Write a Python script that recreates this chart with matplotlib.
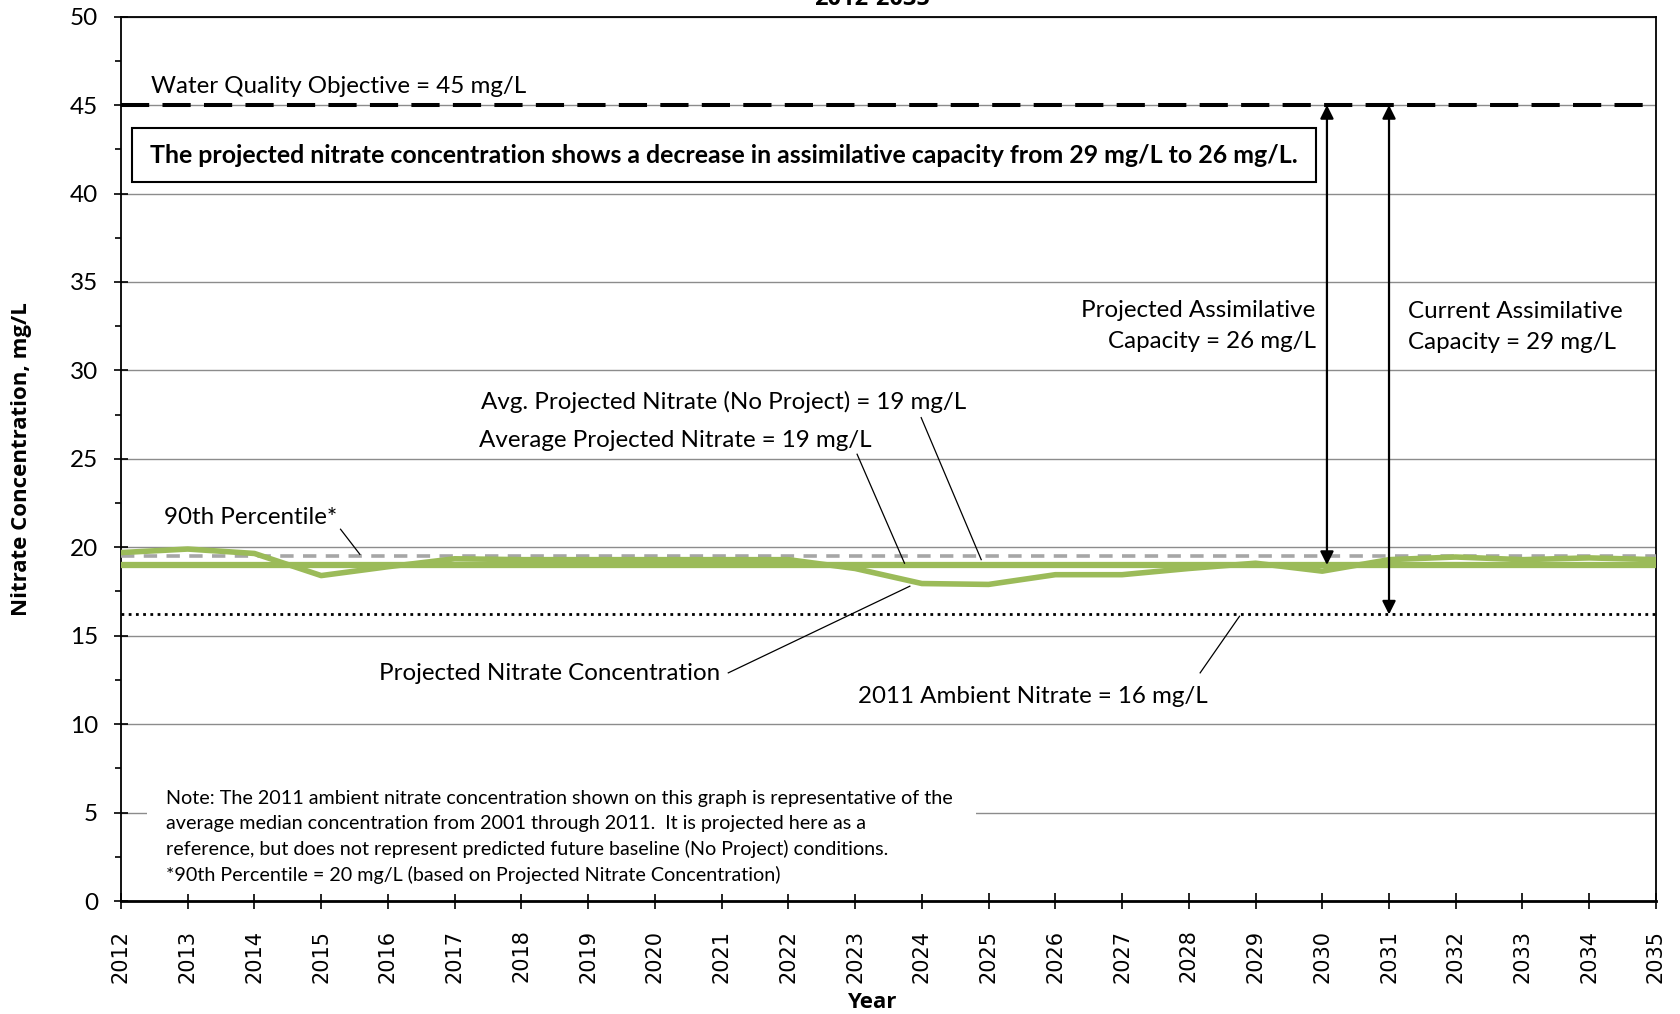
import matplotlib
matplotlib.use("Agg")
import matplotlib.pyplot as plt
from matplotlib.patches import Rectangle

# Données
years = list(range(2012, 2036))
projected = [19.7, 19.9, 19.65, 18.4, 18.9, 19.35, 19.3, 19.3, 19.3, 19.3, 19.3, 18.8,
             17.95, 17.9, 18.45, 18.45, 18.8, 19.1, 18.65, 19.3, 19.45, 19.3, 19.4, 19.3]
avg_projected = 19.0
avg_no_project = 19.05
pct90 = 19.5
ambient_2011 = 16.2
wqo = 45
y_ticks = list(range(0, 51, 5))

GREEN = "#9BBB59"
FONT = "Lato"

fig = plt.figure(figsize=(16.8, 10.14), dpi=100)
ax = fig.add_axes([0.072, 0.1114, 0.9137, 0.8722])

ax.set_xlim(years[0], years[-1])
ax.set_ylim(0, 50)
ax.set_yticks(y_ticks)
ax.set_yticks([v + 2.5 for v in y_ticks[:-1]], minor=True)
ax.set_xticks(years)
ax.set_xticklabels([str(y) for y in years], rotation=90, fontfamily="DejaVu Sans",
                   fontsize=15)
ax.yaxis.grid(True, color="#8c8c8c", lw=1.0, zorder=0)
ax.set_axisbelow(True)

for s in ax.spines.values():
    s.set_color("black")
    s.set_linewidth(1.3)
ax.spines["bottom"].set_linewidth(2.0)

ax.tick_params(axis="y", which="major", direction="inout", length=10, width=1.2, pad=11.5)
ax.tick_params(axis="y", which="minor", direction="out", length=4, width=1.2)
ax.tick_params(axis="x", which="major", direction="inout", length=11, width=1.2, pad=15)
for lab in ax.get_yticklabels():
    lab.set_fontfamily(FONT)
    lab.set_fontsize(17.5)

ax.set_ylabel("Nitrate Concentration, mg/L", fontfamily="Open Sans", fontweight="bold", fontsize=16)
ax.yaxis.set_label_coords(-0.058, 0.5)
ax.set_xlabel("Year", fontfamily="Open Sans", fontweight="bold", fontsize=16)
ax.xaxis.set_label_coords(0.4893, -0.103)

fig.text(0.519, 0.995, "2012-2035", ha="center", va="baseline",
         fontfamily="Open Sans", fontweight="bold", fontsize=17)

# Lignes de référence
ax.axhline(wqo, color="black", lw=2.9, dashes=(7, 3.3), zorder=4)
ax.axhline(pct90, color="#A6A6A6", lw=2.6, dashes=(3.7, 2.6), zorder=3)
ax.axhline(ambient_2011, color="black", lw=2.0, dashes=(1, 1.6), zorder=3)
ax.plot(years, [avg_no_project] * len(years), color=GREEN, lw=3.8, zorder=4)
ax.plot(years, [avg_projected] * len(years), color=GREEN, lw=3.8, zorder=4)
ax.plot(years, projected, color=GREEN, lw=4.0, zorder=5)

# Flèches de capacité assimilative
arrow = dict(arrowstyle="<|-|>", color="black", lw=1.6, mutation_scale=20,
             shrinkA=0, shrinkB=0)
ax.annotate("", xy=(2030.07, wqo), xytext=(2030.07, avg_projected), arrowprops=arrow, zorder=6)
ax.annotate("", xy=(2031.0, wqo), xytext=(2031.0, ambient_2011), arrowprops=arrow, zorder=6)

txt = dict(fontfamily=FONT, fontsize=17.4, color="black", zorder=7)
ax.text(2012.45, 46.05, "Water Quality Objective = 45 mg/L", ha="left", va="center", **txt)

ax.add_patch(Rectangle((2012.16, 40.65), 17.74, 3.04, facecolor="white",
                       edgecolor="black", lw=1.5, zorder=6))
ax.text(2012.43, 42.17,
        "The projected nitrate concentration shows a decrease in assimilative capacity from 29 mg/L to 26 mg/L.",
        ha="left", va="center", fontfamily=FONT, fontweight="bold", fontsize=17.9, zorder=7)

ax.text(2029.9, 32.5, "Projected Assimilative\nCapacity = 26 mg/L", ha="right", va="center",
        multialignment="right", linespacing=1.58, **txt)
ax.text(2031.28, 32.45, "Current Assimilative\nCapacity = 29 mg/L", ha="left", va="center",
        multialignment="left", linespacing=1.58, **txt)

# Étiquettes avec traits de rappel
labels = [
    ("Avg. Projected Nitrate (No Project) = 19 mg/L", (2017.39, 28.24), (2023.99, 27.33), (2024.89, 19.3)),
    ("Average Projected Nitrate = 19 mg/L", (2017.36, 26.05), (2023.03, 25.26), (2023.74, 19.1)),
    ("90th Percentile*", (2012.64, 21.69), (2015.29, 21.02), (2015.58, 19.6)),
    ("Projected Nitrate Concentration", (2015.87, 12.84), (2021.1, 12.9), (2023.82, 17.8)),
    ("2011 Ambient Nitrate = 16 mg/L", (2023.05, 11.57), (2028.17, 12.9), (2028.76, 16.1)),
]
for text, pos, p0, p1 in labels:
    ax.text(pos[0], pos[1], text, ha="left", va="center", **txt)
    ax.plot([p0[0], p1[0]], [p0[1], p1[1]], color="black", lw=0.9, zorder=6)

# Note en bas
ax.add_patch(Rectangle((2012.39, 0.4), 12.42, 6.6, facecolor="white", edgecolor="none", zorder=2))
note = ("Note: The 2011 ambient nitrate concentration shown on this graph is representative of the\n"
        "average median concentration from 2001 through 2011.  It is projected here as a\n"
        "reference, but does not represent predicted future baseline (No Project) conditions.\n"
        "*90th Percentile = 20 mg/L (based on Projected Nitrate Concentration)")
ax.text(2012.67, 6.25, note, ha="left", va="top", fontfamily=FONT,
        fontsize=14.2, linespacing=1.52, zorder=7)

fig.savefig("out.png", dpi=100)
